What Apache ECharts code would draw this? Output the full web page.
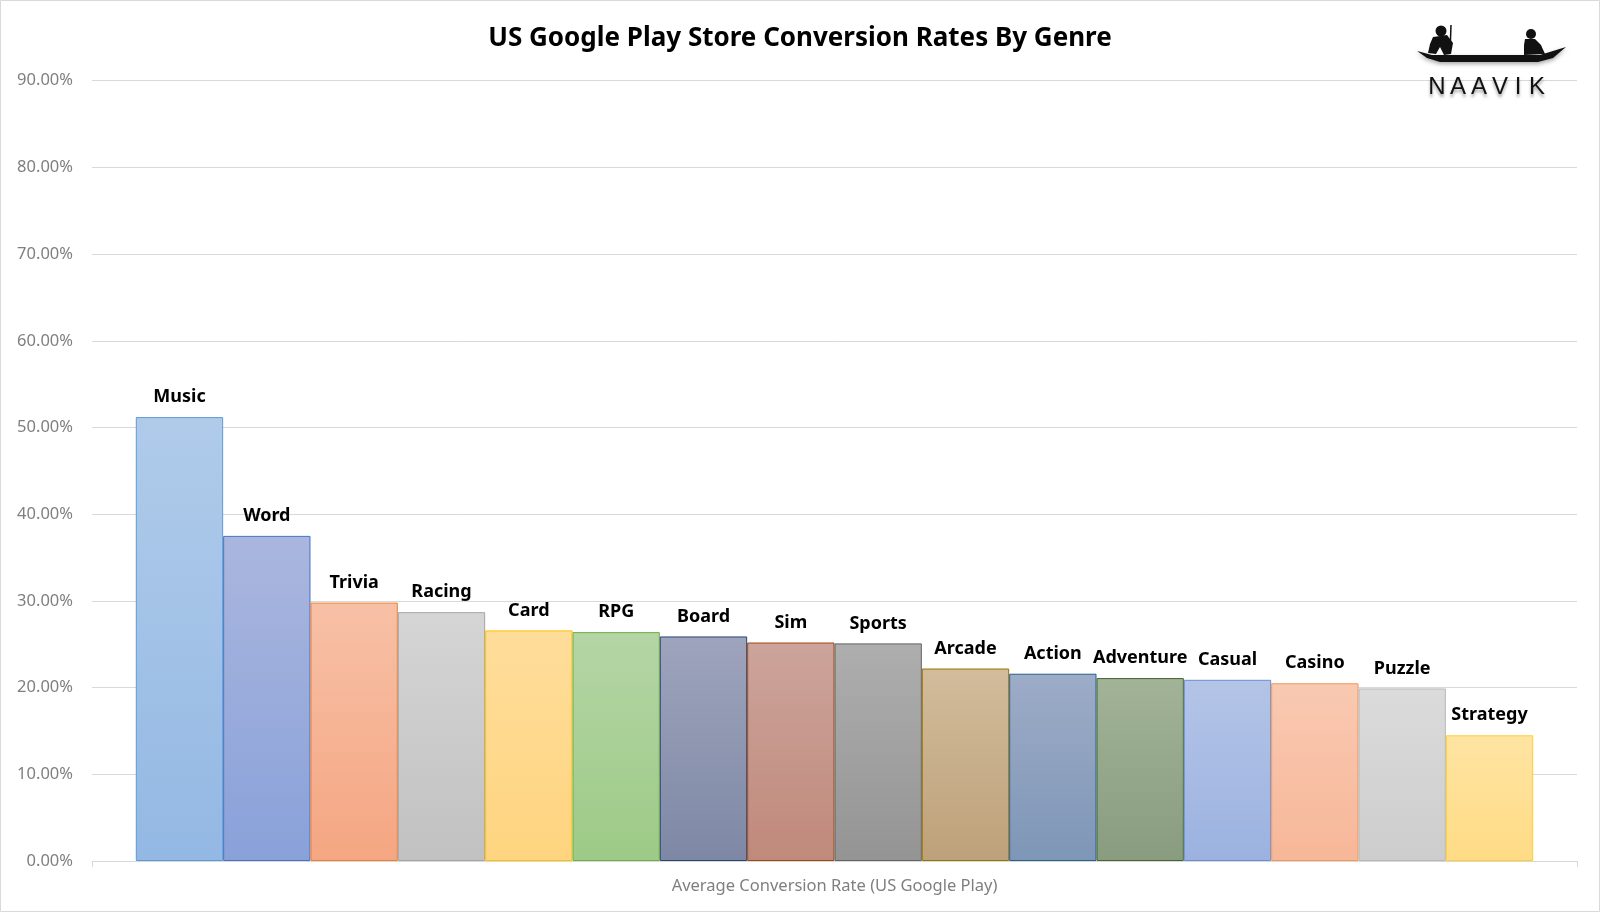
<!DOCTYPE html>
<html>
<head>
<meta charset="utf-8">
<title>US Google Play Store Conversion Rates By Genre</title>
<script src="https://cdn.jsdelivr.net/npm/echarts@6/dist/echarts.min.js"></script>
<style>
	html, body { margin: 0; padding: 0; background: #fff; }
	#chart { width: 1600px; height: 912px; }
</style>
</head>
<body>
<div id="chart"></div>
<script>
// 数据
const categories = ['Average Conversion Rate (US Google Play)'];
const genres = ['Music', 'Word', 'Trivia', 'Racing', 'Card', 'RPG', 'Board', 'Sim',
	'Sports', 'Arcade', 'Action', 'Adventure', 'Casual', 'Casino', 'Puzzle', 'Strategy'];
const rates = [51.2, 37.5, 29.8, 28.7, 26.6, 26.4, 25.9, 25.2,
	25.1, 22.2, 21.6, 21.1, 20.9, 20.5, 19.9, 14.5];
const yTicks = [0, 10, 20, 30, 40, 50, 60, 70, 80, 90];

// 每个系列的渐变色 (上, 下) 和边框色
const topColors = ['#b0cbea', '#aab6de', '#f7c0a6', '#d5d5d5', '#ffdd9a', '#b4d5a5', '#9ea4bc', '#cca49b',
	'#aeaeae', '#d2bc9b', '#9dacc7', '#a2b398', '#b4c4e7', '#f9c9b2', '#dbdbdb', '#ffe4a2'];
const bottomColors = ['#93b8e3', '#89a1d9', '#f5a682', '#c1c1c1', '#fed47f', '#9dca86', '#7e88a5', '#c0897b',
	'#949494', '#bda17a', '#7e96b7', '#899c7f', '#9bb2e0', '#f7b798', '#cdcdcd', '#ffdb85'];
const borderColors = ['#5b9bd5', '#4472c4', '#ed7d31', '#a5a5a5', '#ffc000', '#70ad47', '#264478', '#9e480e',
	'#636363', '#997300', '#255e91', '#43682b', '#698ed0', '#f1975a', '#b7b7b7', '#ffcd33'];

const chartDom = document.getElementById('chart');
const myChart = echarts.init(chartDom);

const series = genres.map((name, i) => ({
	name: name,
	type: 'bar',
	data: [rates[i]],
	barGap: '0%',
	barCategoryGap: '5.9%',
	itemStyle: {
		color: {
			type: 'linear', x: 0, y: 0, x2: 0, y2: 1,
			colorStops: [
				{ offset: 0, color: topColors[i] },
				{ offset: 1, color: bottomColors[i] }
			]
		},
		borderColor: borderColors[i],
		borderWidth: 1
	},
	label: {
		show: true,
		position: 'top',
		distance: 11,
		formatter: '{a}',
		color: '#000',
		fontFamily: 'Noto Sans',
		fontWeight: 'bold',
		fontSize: 18
	}
}));

// 右上角 logo (小船 + 文字)
const logoLetters = ['N', 'A', 'A', 'V', 'I', 'K'];
const logoX = [1437, 1458, 1479, 1500, 1518, 1537];
const logo = [
	// 船身
	{
		type: 'polygon', z: 10,
		shape: { points: [[1417, 51], [1432, 55], [1540, 55], [1566, 47], [1553, 58], [1538, 62], [1440, 62], [1427, 58]] },
		style: { fill: '#111', shadowBlur: 4, shadowColor: 'rgba(0,0,0,0.35)', shadowOffsetY: 2 }
	},
	// 撑船的人
	{ type: 'circle', z: 10, shape: { cx: 1441, cy: 31, r: 5.5 }, style: { fill: '#111' } },
	{
		type: 'polygon', z: 10,
		shape: { points: [[1433, 37], [1447, 35], [1453, 43], [1451, 54], [1444, 55], [1440, 47], [1436, 54], [1428, 53], [1430, 44]] },
		style: { fill: '#111' }
	},
	{ type: 'line', z: 10, shape: { x1: 1451, y1: 25, x2: 1450, y2: 53 }, style: { stroke: '#111', lineWidth: 1.5 } },
	// 坐着的人
	{ type: 'circle', z: 10, shape: { cx: 1531, cy: 34, r: 5 }, style: { fill: '#111' } },
	{
		type: 'polygon', z: 10,
		shape: { points: [[1525, 39], [1535, 39], [1541, 45], [1545, 54], [1524, 55], [1524, 45]] },
		style: { fill: '#111' }
	}
].concat(logoLetters.map((ch, i) => ({
	type: 'text', z: 10,
	x: logoX[i], y: 87,
	style: {
		text: ch,
		fill: '#111',
		font: '24px "Liberation Sans"',
		align: 'center',
		verticalAlign: 'middle',
		textShadowBlur: 3,
		textShadowColor: 'rgba(0,0,0,0.35)',
		textShadowOffsetY: 3
	}
})));

// 图表外边框
const frame = {
	type: 'rect', z: -1, silent: true,
	shape: { x: 0.5, y: 0.5, width: 1599, height: 911 },
	style: { fill: 'none', stroke: '#d9d9d9', lineWidth: 1 }
};

const option = {
	animation: false,
	backgroundColor: '#fff',
	title: {
		text: 'US Google Play Store Conversion Rates By Genre',
		left: 'center',
		top: 21,
		textStyle: {
			color: '#000',
			fontFamily: 'Noto Sans',
			fontWeight: 'bold',
			fontSize: 26
		}
	},
	grid: {
		left: 92,
		right: 23,
		top: 80.7,
		bottom: 51
	},
	xAxis: {
		type: 'category',
		data: categories,
		axisLine: { lineStyle: { color: '#d9d9d9', width: 1 } },
		axisTick: { show: true, length: 6, lineStyle: { color: '#d9d9d9' } },
		axisLabel: {
			color: '#7f7f7f',
			fontFamily: 'Noto Sans',
			fontSize: 16.5,
			margin: 17
		}
	},
	yAxis: {
		type: 'value',
		min: yTicks[0],
		max: yTicks[yTicks.length - 1],
		interval: 10,
		axisLine: { show: false },
		axisTick: { show: false },
		axisLabel: {
			color: '#7f7f7f',
			fontFamily: 'Noto Sans',
			fontSize: 16.5,
			margin: 19,
			formatter: v => v.toFixed(2) + '%'
		},
		splitLine: { lineStyle: { color: '#d9d9d9', width: 1 } }
	},
	series: series,
	graphic: [frame].concat(logo)
};

myChart.setOption(option);

window.addEventListener('resize', () => {
	myChart.resize();
});
</script>
</body>
</html>
